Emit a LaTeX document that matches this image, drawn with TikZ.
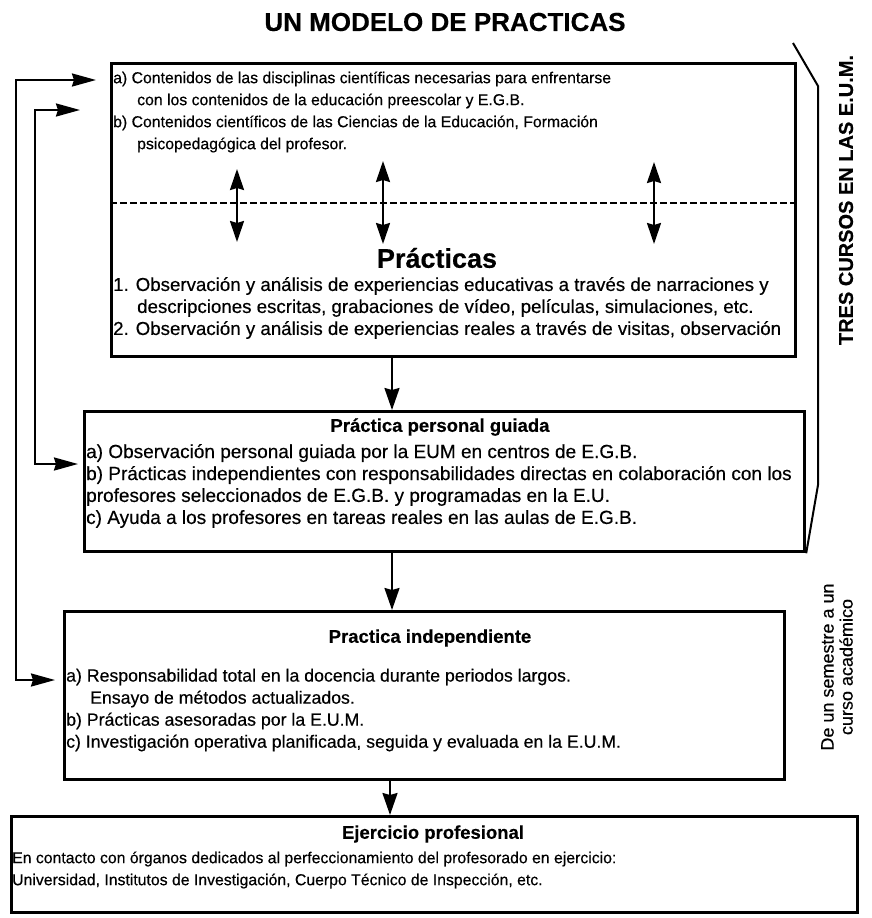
\documentclass[tikz,border=0pt]{standalone}
\usepackage{fontspec}
\setmainfont{Liberation Sans}[FakeBold=0.4]
\usetikzlibrary{arrows.meta}
\begin{document}
\begin{tikzpicture}[x=1pt,y=-1pt,
  box/.style={draw, line width=3.2pt, inner sep=0pt, anchor=north west},
  conn/.style={line width=2.2pt, -{Stealth[length=22pt,width=15pt,inset=2pt]}},
  dbl/.style={line width=2.2pt, {Stealth[length=21pt,width=14pt,inset=2pt]}-{Stealth[length=21pt,width=14pt,inset=2pt]}},
  lnk/.style={line width=2.2pt, {Stealth[length=24pt,width=13pt,inset=2pt]}-{Stealth[length=24pt,width=13pt,inset=2pt]}},
  brk/.style={line width=2pt},
  sep/.style={line width=2.4pt, dash pattern=on 7pt off 3pt},
  ta/.style={anchor=west, inner sep=0pt, font=\fontsize{15.8}{18}\selectfont},
  tb/.style={anchor=west, inner sep=0pt, font=\fontsize{18.7}{21}\selectfont},
  tc/.style={anchor=west, inner sep=0pt, font=\fontsize{19}{21}\selectfont},
  td/.style={anchor=west, inner sep=0pt, font=\fontsize{17.7}{21}\selectfont},
  te/.style={anchor=west, inner sep=0pt, font=\fontsize{15.8}{19}\selectfont},
  head/.style={inner sep=0pt, font=\bfseries\fontsize{18.5}{20}\selectfont}
]
\useasboundingbox (0,0) rectangle (871,918);

% title
\node[inner sep=0pt, font=\bfseries\fontsize{26}{28}\selectfont] (title) at (445,22) {UN MODELO DE PRACTICAS};

% boxes
\node[box, minimum width=684pt, minimum height=293pt] (b1) at (110,62) {};
\node[box, minimum width=720pt, minimum height=140pt] (b2) at (83,410) {};
\node[box, minimum width=720pt, minimum height=168pt] (b3) at (63,610) {};
\node[box, minimum width=846pt, minimum height=96pt] (b4) at (10,815) {};

% box 1 upper text
\node[ta] (l1) at (113,79) {a) Contenidos de las disciplinas científicas necesarias para enfrentarse};
\node[ta] (l2) at (137,101) {con los contenidos de la educación preescolar y E.G.B.};
\node[ta] (l3) at (113,123) {b) Contenidos científicos de las Ciencias de la Educación, Formación};
\node[ta] (l4) at (137,145) {psicopedagógica del profesor.};

% separator
\coordinate (dl) at (0,203);
\draw[sep] (b1.west |- dl) -- (b1.east |- dl);

% double arrows
\coordinate (u1) at (237,169); \coordinate (d1) at (237,242);
\coordinate (u2) at (383,161); \coordinate (d2) at (383,244);
\coordinate (u3) at (654,162); \coordinate (d3) at (654,244);
\draw[dbl] (u1) -- (d1);
\draw[dbl] (u2) -- (d2);
\draw[dbl] (u3) -- (d3);

% practicas
\node[inner sep=0pt, font=\bfseries\fontsize{27}{29}\selectfont] (prac) at (437,258) {Prácticas};
\node[tb] (p1) at (113,286) {1. Observación y análisis de experiencias educativas a través de narraciones y};
\node[tb] (p2) at (137,308) {descripciones escritas, grabaciones de vídeo, películas, simulaciones, etc.};
\node[tb] (p3) at (113,330) {2. Observación y análisis de experiencias reales a través de visitas, observación};

% box 2
\node[head] (h2) at (440,427) {Práctica personal guiada};
\node[tc] (g1) at (86,453) {a) Observación personal guiada por la EUM en centros de E.G.B.};
\node[tc] (g2) at (86,475) {b) Prácticas independientes con responsabilidades directas en colaboración con los};
\node[tc] (g3) at (86,497) {profesores seleccionados de E.G.B. y programadas en la E.U.};
\node[tc] (g4) at (86,519) {c) Ayuda a los profesores en tareas reales en las aulas de E.G.B.};

% box 3
\node[head] (h3) at (430,638) {Practica independiente};
\node[td] (i1) at (66,677) {a) Responsabilidad total en la docencia durante periodos largos.};
\node[td] (i2) at (90,699) {Ensayo de métodos actualizados.};
\node[td] (i3) at (66,721) {b) Prácticas asesoradas por la E.U.M.};
\node[td] (i4) at (66,743) {c) Investigación operativa planificada, seguida y evaluada en la E.U.M.};

% box 4
\node[head] (h4) at (433,834) {Ejercicio profesional};
\node[te] (e1) at (12,859) {En contacto con órganos dedicados al perfeccionamiento del profesorado en ejercicio:};
\node[te] (e2) at (12,881) {Universidad, Institutos de Investigación, Cuerpo Técnico de Inspección, etc.};

% vertical flow arrows
\coordinate (ca) at (392,0);
\coordinate (cb) at (390,0);
\draw[conn] (ca |- b1.south) -- (ca |- b2.north);
\draw[conn] (ca |- b2.south) -- (ca |- b3.north);
\draw[conn] (cb |- b3.south) -- (cb |- b4.north);

% left feedback connectors
\coordinate (r1) at (0,80);
\coordinate (r2) at (0,110);
\coordinate (r3) at (0,464);
\coordinate (r4) at (0,680);
\coordinate (xo) at (16,0);
\coordinate (xi) at (35,0);
\path (b1.west |- r1) ++(-14,0) coordinate (t1);
\path (b1.west |- r2) ++(-30,0) coordinate (t2);
\path (b2.west |- r3) ++(-5,0) coordinate (t3);
\path (b3.west |- r4) ++(-8,0) coordinate (t4);
\draw[lnk] (t1) -| (xo |- r4) -- (t4);
\draw[lnk] (t2) -| (xi |- r3) -- (t3);

% bracket
\coordinate (k1) at (793,43);
\coordinate (k2) at (818,86);
\coordinate (k3) at (818,485);
\draw[brk] (k1) -- (k2) -- (k3) -- (b2.south east);

% side labels
\node[rotate=90, inner sep=0pt, font=\bfseries\fontsize{20}{22}\selectfont] (tres) at (846,200) {TRES CURSOS EN LAS E.U.M.};
\node[rotate=90, inner sep=0pt, align=center, font=\fontsize{18}{19}\selectfont] (sem) at (837,667) {De un semestre a un\\curso académico};
\end{tikzpicture}
\end{document}
